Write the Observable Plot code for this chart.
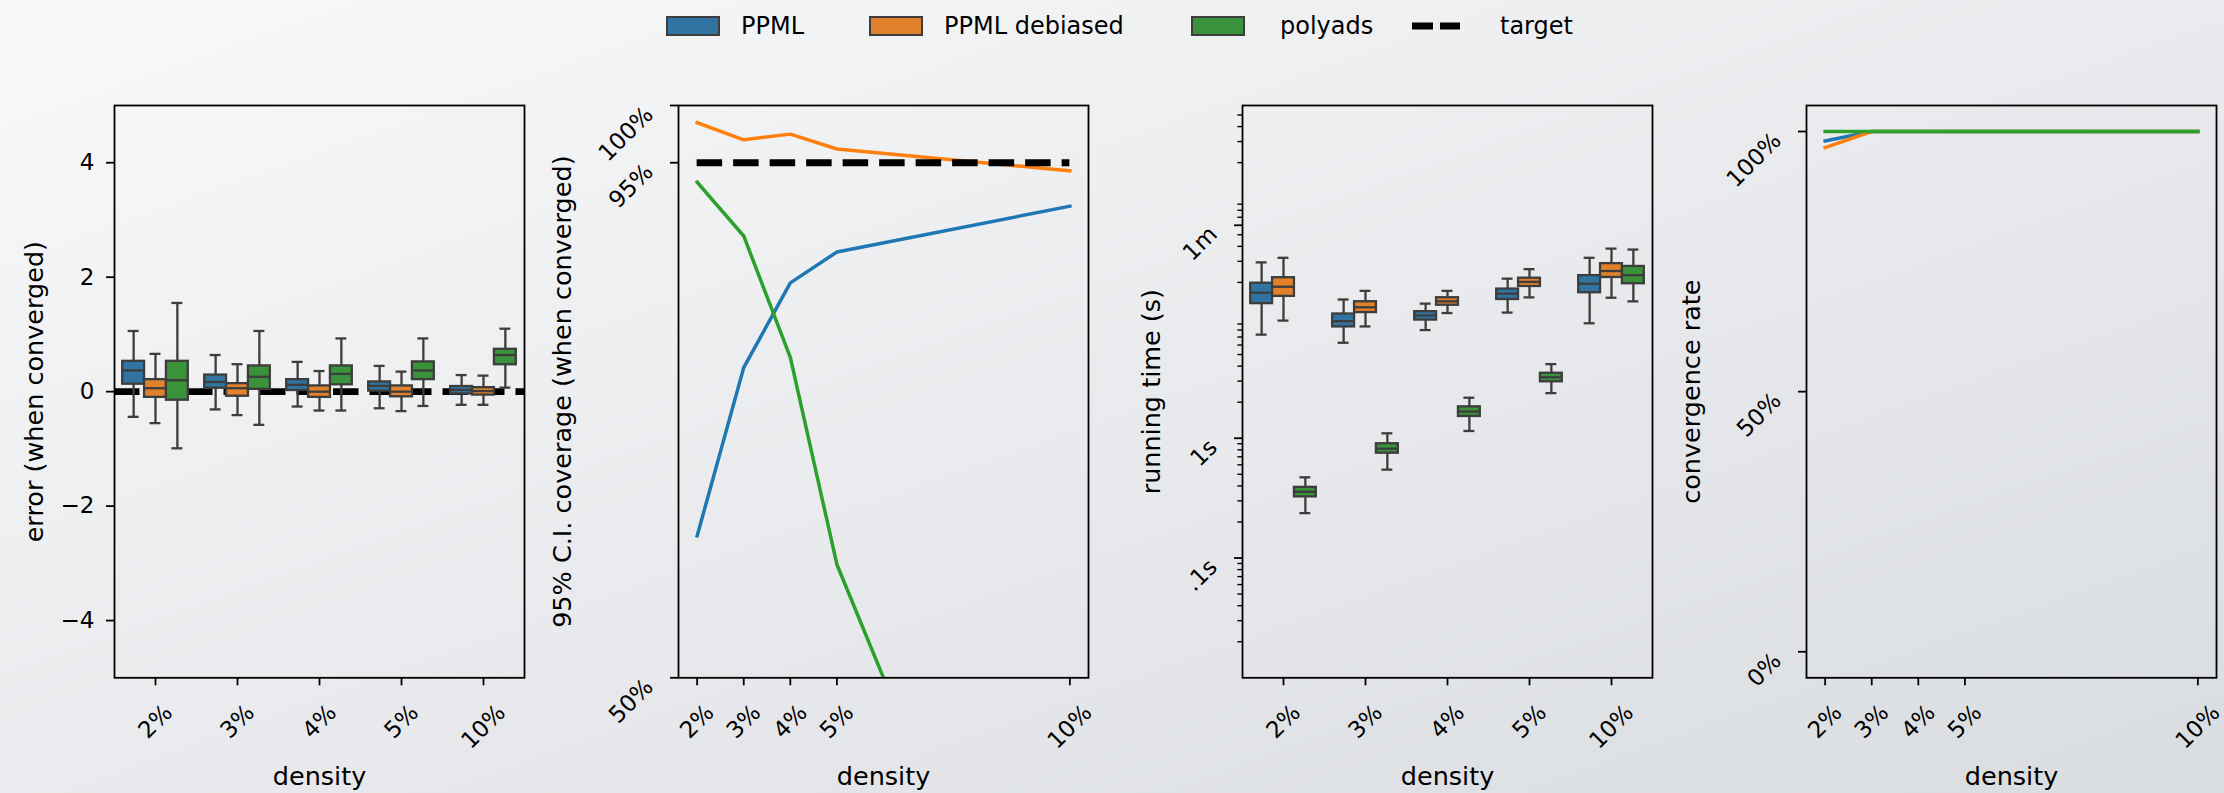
<!DOCTYPE html>
<html><head><meta charset="utf-8">
<script src="https://cdn.jsdelivr.net/npm/d3@7"></script>
<script src="https://cdn.jsdelivr.net/npm/@observablehq/plot@0.6"></script>
<style>
html,body{margin:0;padding:0;}
body{width:2224px;height:793px;overflow:hidden;background:linear-gradient(to bottom right,#f9f9fa,#d9dce0);font-family:"DejaVu Sans";}
#wrap{position:relative;width:2224px;height:793px;}
</style></head><body><div id="wrap"></div>
<script>
// ---------- data ----------
const densityLabels = ["2%", "3%", "4%", "5%", "10%"];
const densityValues = [2, 3, 4, 5, 10];
const methods = ["PPML", "PPML debiased", "polyads"];
const boxColors = ["#3274a1", "#e1812c", "#3a923a"];
const lineColors = ["#1f77b4", "#ff7f0e", "#2ca02c"];
const edgeGray = "#3d3d3d";

// error (when converged): [whisker low, q1, median, q3, whisker high] per density
const errorPPML     = [[-0.44, 0.13, 0.37, 0.53, 1.06], [-0.31, 0.06, 0.17, 0.29, 0.64], [-0.26, 0.02, 0.12, 0.21, 0.52], [-0.29, 0.01, 0.10, 0.17, 0.45], [-0.23, -0.04, 0.03, 0.09, 0.29]];
const errorDebiased = [[-0.55, -0.10, 0.06, 0.21, 0.66], [-0.41, -0.08, 0.06, 0.14, 0.48], [-0.33, -0.10, 0.00, 0.10, 0.36], [-0.34, -0.09, 0.00, 0.10, 0.35], [-0.23, -0.06, 0.01, 0.07, 0.28]];
const errorPolyads  = [[-0.99, -0.15, 0.20, 0.53, 1.55], [-0.58, 0.04, 0.26, 0.45, 1.06], [-0.33, 0.12, 0.31, 0.45, 0.93], [-0.25, 0.21, 0.37, 0.52, 0.93], [0.07, 0.47, 0.64, 0.74, 1.10]];
const errorTarget = 0;
const errorTicks = [-4, -2, 0, 2, 4];

// 95% C.I. coverage (%)
const coveragePPML     = [62.4, 77.1, 84.5, 87.2, 91.2];
const coverageDebiased = [98.5, 97.0, 97.5, 96.2, 94.3];
const coveragePolyads  = [93.3, 88.6, 78.0, 59.9, 10.4];
const coverageTarget = 95;
const coverageTicks = [50, 95, 100];
const coverageTickLabels = ["50%", "95%", "100%"];

// running time (s): [low, q1, median, q3, high]
const timePPML     = [[7.33, 13.3, 16.4, 19.7, 29.4], [6.27, 8.5, 9.5, 10.9, 14.4], [8.0, 9.7, 10.6, 11.4, 13.3], [11.2, 14.4, 16.1, 17.6, 21.5], [9.12, 16.4, 19.5, 22.8, 32.1]];
const timeDebiased = [[9.6, 15.3, 18.4, 21.9, 32.1], [8.58, 11.2, 12.4, 13.8, 17.0], [11.1, 12.9, 13.9, 14.9, 17.0], [15.0, 18.5, 20.2, 21.7, 25.8], [14.9, 22.0, 24.9, 28.7, 38.3]];
const timePolyads  = [[0.237, 0.324, 0.357, 0.389, 0.472], [0.547, 0.75, 0.818, 0.90, 1.10], [1.15, 1.52, 1.67, 1.83, 2.18], [2.38, 2.96, 3.23, 3.49, 4.16], [13.9, 19.5, 23.0, 27.2, 37.6]];
const timeTicks = [0.1, 1, 60];
const timeTickLabels = [".1s", "1s", "1m"];

// convergence rate (%)
const convergencePPML     = [98.2, 100, 100, 100, 100];
const convergenceDebiased = [96.9, 100, 100, 100, 100];
const convergencePolyads  = [100, 100, 100, 100, 100];
const convergenceTicks = [0, 50, 100];
const convergenceTickLabels = ["0%", "50%", "100%"];

// ---------- layout ----------
const W = 564, H = 793, ML = 114, MT = 105, FRAME_W = 410, FRAME_H = 572.3;
const MB = H - MT - FRAME_H;
const FS = 23, LFS = 25.5;
const TICK = 8, MINOR = 4.6;

const ctx = document.createElement("canvas").getContext("2d");
ctx.font = `${FS}px "DejaVu Sans"`;
const inkS = t => (Math.max(0, ctx.measureText(t).width - 2) + 0.73 * FS) / (2 * Math.SQRT2);
const minus = d => d < 0 ? "\u2212" + (-d) : String(d);

function xTickLabels(values, labels) {
  return labels.map((t, j) => Plot.text([values[j]], {
    x: d => d, text: () => t, frameAnchor: "bottom", dy: 25.7 + inkS(t),
    rotate: -45, textAnchor: "middle", lineAnchor: "middle", fontSize: FS, fill: "black"
  }));
}
function yTickLabels(values, labels) {
  return labels.map((t, j) => {
    const s = inkS(t);
    return Plot.text([values[j]], {
      y: d => d, text: () => t, frameAnchor: "left", dx: -(24 + s), dy: s,
      rotate: -45, textAnchor: "middle", lineAnchor: "middle", fontSize: FS, fill: "black"
    });
  });
}
function yLabel(t, off) {
  return Plot.text([t], {text: d => d, frameAnchor: "left", dx: -off, rotate: -90,
    textAnchor: "middle", lineAnchor: "middle", fontSize: LFS, fill: "black"});
}
function xLabel(t) {
  return Plot.text([t], {text: d => d, frameAnchor: "bottom", dy: 99,
    textAnchor: "middle", lineAnchor: "middle", fontSize: LFS, fill: "black"});
}

function boxMarks(stats, i) {
  const rows = densityLabels.map((c, j) => ({c, lo: stats[j][0], q1: stats[j][1], med: stats[j][2], q3: stats[j][3], hi: stats[j][4]}));
  const bw = FRAME_W / densityLabels.length;
  const slot = 0.8 * bw / methods.length;
  const left = 0.1 * bw + i * slot;
  const right = bw - left - slot;
  const dx = left + slot / 2 - bw / 2;
  const common = {x: "c", stroke: edgeGray, strokeWidth: 2.3};
  return [
    Plot.ruleX(rows, {...common, y1: "lo", y2: "q1", dx}),
    Plot.ruleX(rows, {...common, y1: "q3", y2: "hi", dx}),
    Plot.tickY(rows, {...common, y: "lo", insetLeft: left + slot / 4, insetRight: right + slot / 4}),
    Plot.tickY(rows, {...common, y: "hi", insetLeft: left + slot / 4, insetRight: right + slot / 4}),
    Plot.barY(rows, {...common, y1: "q1", y2: "q3", fill: boxColors[i], insetLeft: left, insetRight: right}),
    Plot.tickY(rows, {...common, y: "med", insetLeft: left, insetRight: right})
  ];
}
function lineMark(values, i) {
  const rows = densityValues.map((d, j) => ({d, v: values[j]}));
  return Plot.line(rows, {x: "d", y: "v", stroke: lineColors[i], strokeWidth: 3.5, strokeLinecap: "square", clip: true});
}

const wrap = document.getElementById("wrap");
function panel(i, scales, marks) {
  const w = i === 3 ? 2224 - 3 * W : W;
  const svg = Plot.plot({
    width: w, height: H, marginLeft: ML, marginRight: w - ML - FRAME_W, marginTop: MT, marginBottom: MB,
    style: {fontFamily: "DejaVu Sans", fontSize: FS + "px", background: "transparent", overflow: "visible", color: "black"},
    ...scales,
    marks: [...marks, Plot.frame({stroke: "black", strokeWidth: 1.8})]
  });
  svg.style.position = "absolute";
  svg.style.left = (i * W) + "px";
  svg.style.top = "0px";
  wrap.appendChild(svg);
}

const bandX = {type: "band", domain: densityLabels, padding: 0};
const linX = {type: "linear", domain: [1.6, 10.4]};
const tickX = (ticks) => Plot.axisX({ticks, tickSize: TICK, strokeWidth: 1.8, tickFormat: () => "", label: null});

// panel 1: error
panel(0, {x: bandX, y: {domain: [-5, 5]}}, [
  Plot.ruleY([errorTarget], {stroke: "black", strokeWidth: 6.9, strokeDasharray: "25.5,11"}),
  ...boxMarks(errorPPML, 0), ...boxMarks(errorDebiased, 1), ...boxMarks(errorPolyads, 2),
  Plot.axisY({ticks: errorTicks, tickSize: TICK, tickPadding: 12, strokeWidth: 1.8, tickFormat: minus, label: null, fontSize: FS}),
  Plot.axisX({tickSize: TICK, strokeWidth: 1.8, tickFormat: () => "", label: null}),
  ...xTickLabels(densityLabels, densityLabels),
  yLabel("error (when converged)", 80), xLabel("density")
]);

// panel 2: coverage
panel(1, {x: linX, y: {domain: [50, 100]}}, [
  lineMark(coveragePPML, 0), lineMark(coverageDebiased, 1), lineMark(coveragePolyads, 2),
  Plot.ruleY([{y: coverageTarget, x1: densityValues[0], x2: densityValues[densityValues.length - 1]}],
    {y: "y", x1: "x1", x2: "x2", stroke: "black", strokeWidth: 6.9, strokeDasharray: "25.5,11"}),
  tickX(densityValues),
  Plot.axisY({ticks: coverageTicks, tickSize: TICK, strokeWidth: 1.8, tickFormat: () => "", label: null}),
  ...xTickLabels(densityValues, densityLabels),
  ...yTickLabels(coverageTicks, coverageTickLabels),
  yLabel("95% C.I. coverage (when converged)", 116), xLabel("density")
]);

// panel 3: running time
const minorTime = [];
for (let k = -2; k <= 2; k++) for (let m = 2; m <= 9; m++) {
  const v = m * Math.pow(10, k);
  if (v > 0.01 && v < 600 && !timeTicks.includes(v)) minorTime.push(v);
}
panel(2, {x: bandX, y: {type: "log", domain: [0.01, 600]}}, [
  ...boxMarks(timePPML, 0), ...boxMarks(timeDebiased, 1), ...boxMarks(timePolyads, 2),
  Plot.axisY({ticks: minorTime, tickSize: MINOR, strokeWidth: 1.4, tickFormat: () => "", label: null}),
  Plot.axisY({ticks: timeTicks, tickSize: TICK, strokeWidth: 1.8, tickFormat: () => "", label: null}),
  Plot.axisX({tickSize: TICK, strokeWidth: 1.8, tickFormat: () => "", label: null}),
  ...xTickLabels(densityLabels, densityLabels),
  ...yTickLabels(timeTicks, timeTickLabels),
  yLabel("running time (s)", 91), xLabel("density")
]);

// panel 4: convergence
panel(3, {x: linX, y: {domain: [-5, 105]}}, [
  lineMark(convergencePPML, 0), lineMark(convergenceDebiased, 1), lineMark(convergencePolyads, 2),
  tickX(densityValues),
  Plot.axisY({ticks: convergenceTicks, tickSize: TICK, strokeWidth: 1.8, tickFormat: () => "", label: null}),
  ...xTickLabels(densityValues, densityLabels),
  ...yTickLabels(convergenceTicks, convergenceTickLabels),
  yLabel("convergence rate", 115), xLabel("density")
]);

// ---------- legend ----------
const LEGFS = 24;
const leg = d3.select(wrap).append("svg")
  .attr("width", 2224).attr("height", 52)
  .style("position", "absolute").style("left", "0px").style("top", "0px")
  .style("font-family", "DejaVu Sans").style("font-size", LEGFS + "px");
const boxItems = [{x: 666, tx: 741}, {x: 869, tx: 944}, {x: 1191, tx: 1280}];
methods.forEach((m, i) => {
  leg.append("rect").attr("x", boxItems[i].x + 1).attr("y", 17).attr("width", 52).attr("height", 18)
    .attr("fill", boxColors[i]).attr("stroke", edgeGray).attr("stroke-width", 2);
  leg.append("text").attr("x", boxItems[i].tx).attr("y", 34).text(m);
});
leg.append("line").attr("x1", 1412).attr("x2", 1460).attr("y1", 26).attr("y2", 26)
  .attr("stroke", "black").attr("stroke-width", 6.9).attr("stroke-dasharray", "21,7");
leg.append("text").attr("x", 1500).attr("y", 34).text("target");
</script></body></html>
